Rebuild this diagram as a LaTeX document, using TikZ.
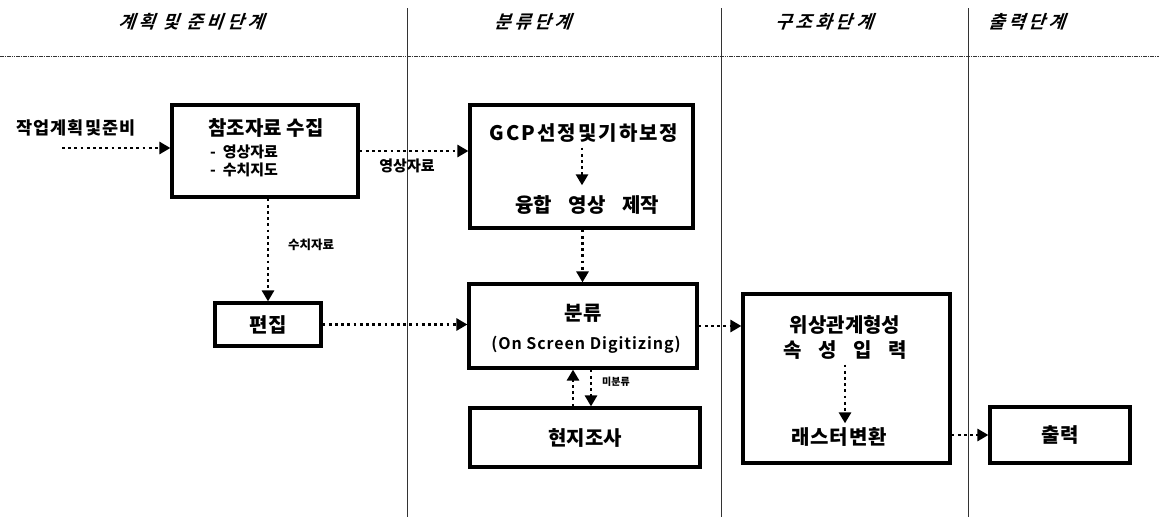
\documentclass[tikz,border=0pt]{standalone}
\usepackage{fontspec}
\usetikzlibrary{arrows.meta}
\newfontfamily\krb{Noto Sans CJK KR Black}
\newfontfamily\krm{Noto Sans CJK KR Bold}
\newfontfamily\krt{Noto Sans CJK KR Bold}[FakeSlant=0.35,LetterSpace=20]
\begin{document}
\begin{tikzpicture}[x=1pt,y=-1pt,
  box/.style={draw, line width=3.2pt, inner sep=0pt},
  arr/.style={line width=2.8pt, dash pattern=on 2.8pt off 3.4pt, -{Triangle[length=11pt,width=12pt]}},
  inarr/.style={arr, shorten <=4pt, shorten >=3pt},
  big/.style={font=\krb\fontsize{20}{23}\selectfont, inner sep=1pt},
  mid/.style={font=\krb\fontsize{15}{17}\selectfont, inner sep=1pt},
  sml/.style={font=\krb\fontsize{12.5}{14}\selectfont, inner sep=1pt},
  tiny/.style={font=\krb\fontsize{10}{12}\selectfont, inner sep=1pt},
  lat/.style={font=\krm\fontsize{16}{18}\selectfont\addfontfeature{LetterSpace=6}, inner sep=1pt},
  ttl/.style={font=\krt\fontsize{18}{21}\selectfont, inner sep=1pt},
  divider/.style={line width=0.8pt, black!80},
  hdr/.style={line width=0.8pt, black!80, dash pattern=on 1.6pt off 0.7pt}]
\useasboundingbox (0,0) rectangle (1159,517);
\fill[white] (0,0) rectangle (1159,517);

% header
\node[ttl] (t1) at (191,22) {계획 및 준비단계};
\node[ttl] (t2) at (533,22) {분류단계};
\node[ttl] (t3) at (824,22) {구조화단계};
\node[ttl] (t4) at (1027,22) {출력단계};
\draw[hdr] (0,56) -- (1159,56);
\draw[divider] (407,8) -- (407,517);
\draw[divider] (721,8) -- (721,517);
\draw[divider] (968,8) -- (968,517);

% boxes
\node[box, minimum width=186pt, minimum height=92pt] (ref) at (265,151) {};
\node[big] (reft) at (266,128) {참조자료 수집};
\node[mid, anchor=west] (li1) at (209,152) {-\ \ 영상자료};
\node[mid, anchor=west] (li2) at (209,170) {-\ \ 수치지도};

\node[box, minimum width=223pt, minimum height=123pt] (gcp) at (581.5,166.5) {};
\node[big] (gcpt) at (584,133) {\addfontfeature{LetterSpace=10}GCP선정및기하보정};
\node[big] (yung) at (587,205) {\makebox[144pt][s]{융합 영상 제작}};

\node[box, big, minimum width=106pt, minimum height=43pt] (pyeon) at (268,324.5) {편집};

\node[box, minimum width=228pt, minimum height=84pt] (bun) at (583,326) {};
\node[big] (bunt) at (583,313) {분류};
\node[lat] (osd) at (586,345) {(On Screen Digitizing)};

\node[box, big, minimum width=230pt, minimum height=59pt] (hyeon) at (585,437.5) {현지조사};

\node[box, minimum width=207pt, minimum height=169pt] (wis) at (846.5,378.5) {};
\node[big] (wis1) at (845,325) {위상관계형성};
\node[big] (wis2) at (845,350) {\makebox[124pt][s]{속 성 입 력}};
\node[big] (wis3) at (839,437) {\addfontfeature{LetterSpace=5}래스터변환};

\node[box, big, minimum width=140pt, minimum height=56pt] (chul) at (1060,435) {출력};

% labels
\node[font=\krb\fontsize{17.5}{20}\selectfont\addfontfeature{LetterSpace=6}, inner sep=1pt] (start) at (76,128) {작업계획및준비};
\coordinate (s0) at (62,148);
\node[mid] (lblA) at (407,166) {영상자료};
\node[sml] (lblB) at (311,245) {수치자료};
\node[tiny] (lblC) at (616,382) {미분류};

% connectors
\draw[arr] (s0) -- (s0 -| ref.west);
\draw[arr] (ref.east) -- (ref.east -| gcp.west);
\draw[arr] (pyeon.north |- ref.south) -- (pyeon.north);
\draw[arr] (pyeon.east) -- (pyeon.east -| bun.west);
\draw[arr] ([xshift=1pt]gcp.south) -- ([xshift=1pt]gcp.south |- bun.north);
\draw[arr] (bun.east) -- (bun.east -| wis.west);
\draw[arr] ([xshift=-12pt]hyeon.north) -- ([xshift=-12pt]hyeon.north |- bun.south);
\draw[arr] ([xshift=6pt]hyeon.north |- bun.south) -- ([xshift=6pt]hyeon.north);
\draw[arr] (chul.west -| wis.east) -- (chul.west);
\draw[inarr, shorten >=9pt] (gcpt.south -| 582,0) -- (yung.north -| 582,0);
\draw[inarr] (wis2.south) -- (wis2.south |- wis3.north);
\end{tikzpicture}
\end{document}
